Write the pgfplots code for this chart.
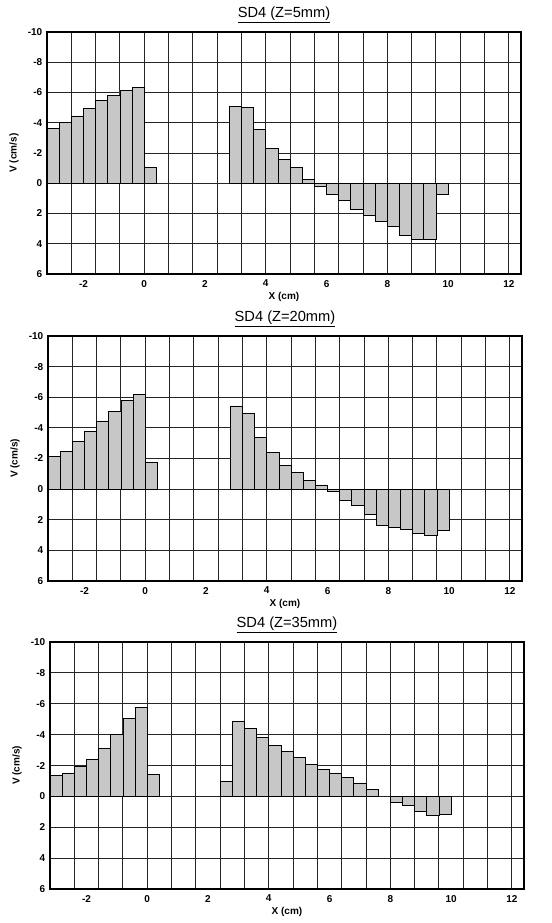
\documentclass[border=0pt]{standalone}
\usepackage{fontspec}
\setmainfont{Liberation Sans}
\usepackage{pgfplots}
\pgfplotsset{compat=1.18}

% one style for the three panels
\pgfplotsset{
  sdpanel/.style={
    scale only axis, width=355.5pt, anchor=north west,
    xmin=-3.2, xmax=12.4, ymin=-10, ymax=6, y dir=reverse,
    xtick={-2,0,...,12}, ytick={-10,-8,...,6},
    minor xtick={-2.4,-1.6,-0.8,0,0.8,1.6,2.4,3.2,4,4.8,5.6,6.4,7.2,8,8.8,9.6,10.4,11.2,12},
    xminorgrids=true, ymajorgrids=true,
    major tick length=0pt, minor tick length=0pt,
    grid style={black!85, line width=0.7pt},
    minor grid style={black!85, line width=0.7pt},
    axis line style={line width=1pt},
    /pgf/number format/assume math mode=true,
    tick label style={font=\fontsize{7.5}{8}\selectfont\bfseries},
    xticklabel style={yshift=-1pt},
    label style={font=\fontsize{7.5}{8}\selectfont\bfseries},
    xlabel={X (cm)}, ylabel={V (cm/s)},
    xlabel style={yshift=3pt},
    ylabel style={yshift=0pt},
    title style={font=\fontsize{11}{13}\selectfont, yshift=-3pt},
  },
  sdbar/.style={ybar, bar width=0.4, fill=black!22, draw=black, line width=0.6pt},
}

\begin{document}
\begin{tikzpicture}
\useasboundingbox (0,0) rectangle (414pt,-692.25pt);

\begin{axis}[sdpanel, at={(35.25pt,-24pt)}, height=181.5pt,
  title={\underline{SD4 (Z=5mm)}}]
\addplot[sdbar] coordinates {
  (-3.0,-3.6) (-2.6,-4.0) (-2.2,-4.45) (-1.8,-4.95) (-1.4,-5.45)
  (-1.0,-5.82) (-0.6,-6.15) (-0.2,-6.35) (0.2,-1.05)
  (3.0,-5.1) (3.4,-5.0) (3.8,-3.58) (4.2,-2.33) (4.6,-1.58)
  (5.0,-1.03) (5.4,-0.26) (5.8,0.2) (6.2,0.77) (6.6,1.16)
  (7.0,1.76) (7.4,2.15) (7.8,2.53) (8.2,2.84) (8.6,3.47)
  (9.0,3.71) (9.4,3.69) (9.8,0.75)
};
\end{axis}

\begin{axis}[sdpanel, at={(36pt,-252pt)}, height=183.75pt,
  title={\underline{SD4 (Z=20mm)}}]
\addplot[sdbar] coordinates {
  (-3.0,-2.12) (-2.6,-2.47) (-2.2,-3.12) (-1.8,-3.76) (-1.4,-4.45)
  (-1.0,-5.1) (-0.6,-5.79) (-0.2,-6.16) (0.2,-1.75)
  (3.0,-5.43) (3.4,-4.95) (3.8,-3.4) (4.2,-2.41) (4.6,-1.57)
  (5.0,-1.09) (5.4,-0.54) (5.8,-0.27) (6.2,0.18) (6.6,0.75)
  (7.0,1.07) (7.4,1.66) (7.8,2.38) (8.2,2.5) (8.6,2.6)
  (9.0,2.9) (9.4,3.04) (9.8,2.72)
};
\end{axis}

\begin{axis}[sdpanel, at={(37.5pt,-481.5pt)}, height=185.25pt,
  title={\underline{SD4 (Z=35mm)}}]
\addplot[sdbar] coordinates {
  (-3.0,-1.33) (-2.6,-1.52) (-2.2,-1.93) (-1.8,-2.41) (-1.4,-3.09)
  (-1.0,-4.04) (-0.6,-5.02) (-0.2,-5.74) (0.2,-1.43)
  (2.6,-0.95) (3.0,-4.86) (3.4,-4.42) (3.8,-3.8) (4.2,-3.31)
  (4.6,-2.89) (5.0,-2.55) (5.4,-2.09) (5.8,-1.76) (6.2,-1.52)
  (6.6,-1.22) (7.0,-0.87) (7.4,-0.43)
  (8.2,0.36) (8.6,0.56) (9.0,0.98) (9.4,1.25) (9.8,1.19)
};
\end{axis}
\end{tikzpicture}
\end{document}
